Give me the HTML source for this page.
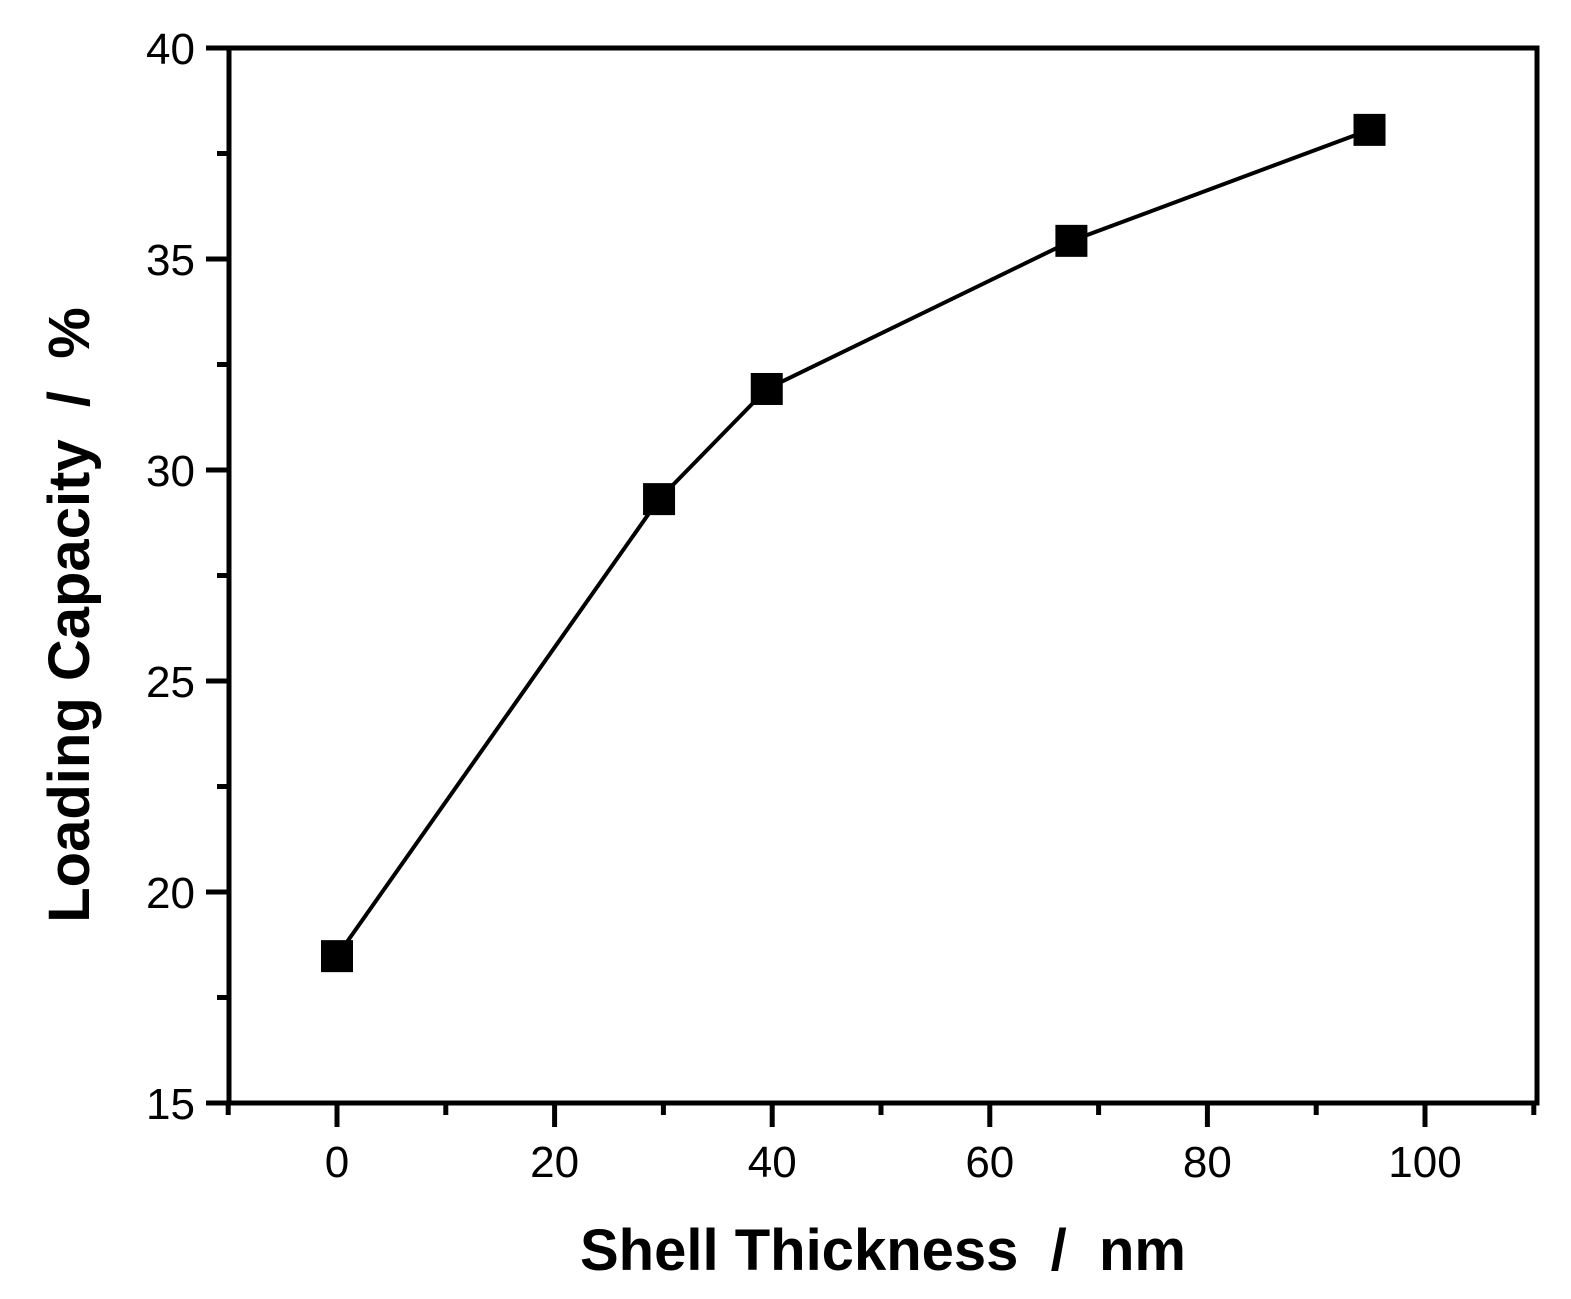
<!DOCTYPE html>
<html><head><meta charset="utf-8"><style>body{margin:0;background:#fff}svg{display:block}text{font-family:"Liberation Sans",Arial,sans-serif;white-space:pre}</style></head>
<body>
<svg id="c" width="1571" height="1299" viewBox="0 0 1571 1299"></svg>
<script>
const xValues=[0,29.6,39.5,67.5,94.9];
const yValues=[18.48,29.31,31.92,35.43,38.06];
const xTicks=[0,20,40,60,80,100];
const yTicks=[15,20,25,30,35,40];
const L=229,R=1537,T=48,B=1103;
const xs=v=>337+(v-0)*10.88;
const ys=v=>B-(v-15)*(B-T)/25;
const svg=document.getElementById('c');
const NS='http://www.w3.org/2000/svg';
function mk(t,a,p){const e=document.createElementNS(NS,t);for(const k in a)e.setAttribute(k,a[k]);(p||svg).appendChild(e);return e;}
let e;
e=mk('rect',{x:L,y:T,width:R-L,height:B-T,fill:'none',stroke:'#000','stroke-width':5});


for(let v=-10;v<=110;v+=10){const major=v%20===0;
 e=mk('line',{x1:xs(v),x2:xs(v),y1:B,y2:B+(major?24:12),stroke:'#000','stroke-width':5});
 
 }
xTicks.forEach(v=>{e=mk('text',{x:xs(v),y:1177,'font-size':44,'text-anchor':'middle'});e.textContent=v;
 
 });
for(let v=15;v<=40;v+=2.5){const major=v%5===0;
 e=mk('line',{x1:L,x2:L-(major?23:12),y1:ys(v),y2:ys(v),stroke:'#000','stroke-width':5});
 
 }
yTicks.forEach(v=>{e=mk('text',{x:195,y:ys(v)+16,'font-size':44,'text-anchor':'end'});e.textContent=v;
 
 });
e=mk('polyline',{points:xValues.map((x,i)=>xs(x)+','+ys(yValues[i])).join(' '),fill:'none',stroke:'#000','stroke-width':4});


xValues.forEach((x,i)=>{e=mk('rect',{x:xs(x)-16,y:ys(yValues[i])-16,width:32,height:32,fill:'#000'});
 
 });
e=mk('text',{x:883,y:1270,'font-size':58,'font-weight':'bold','text-anchor':'middle'});
e.textContent='Shell Thickness  /  nm';


e=mk('text',{x:0,y:0,'font-size':58,'font-weight':'bold','text-anchor':'middle',transform:'translate(89,615) rotate(-90)'});
e.textContent='Loading Capacity  /  %';


</script>
</body></html>
